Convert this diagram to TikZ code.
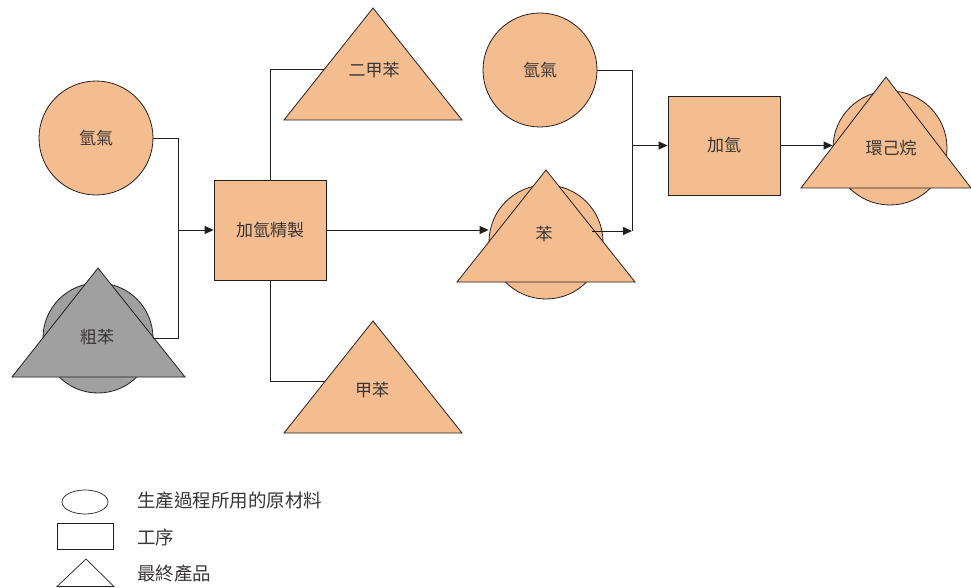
\documentclass[tikz,border=0pt]{standalone}
\usepackage{fontspec}
\newfontfamily\cjk{Noto Sans CJK TC}
\usetikzlibrary{arrows.meta}
\definecolor{org}{HTML}{F3BD8F}
\definecolor{gry}{HTML}{A0A0A0}
\definecolor{ln}{HTML}{231F20}
\begin{document}
\begin{tikzpicture}[x=1pt,y=-1pt,
  lbl/.style={font=\cjk\fontsize{17}{19}\selectfont,text=ln!90,inner sep=0pt},
  leg/.style={font=\cjk\fontsize{18.5}{21}\selectfont,text=ln!90,inner sep=0pt,anchor=west},
  raw/.style={circle,draw=ln,fill=org,minimum size=114pt,inner sep=0pt,line width=0.8pt,font=\cjk\fontsize{17}{19}\selectfont,text=ln!90},
  prod/.style={draw=ln,fill=org,line width=0.8pt},
  proc/.style={rectangle,draw=ln,fill=org,line width=0.8pt,inner sep=0pt,font=\cjk\fontsize{17}{19}\selectfont,text=ln!90},
  conn/.style={draw=ln,line width=0.8pt},
  arr/.style={conn,-{Triangle[length=9pt,width=8pt]}},
  legshape/.style={draw=ln,line width=0.7pt}]
\useasboundingbox (0,0) rectangle (971,588);

% raw materials
\node[raw] (h1) at (96,138) {氫氣};
\node[raw] (h2) at (540,70) {氫氣};
\node[raw,fill=gry,minimum size=110pt] (cbc) at (98,338) {};
\node[raw,minimum size=114pt] (bc) at (546,242) {};
\node[raw,minimum size=114pt] (hc) at (890,148) {};

% processes
\node[proc,minimum width=112pt,minimum height=100pt] (p1) at (270,230) {加氫精製};
\node[proc,minimum width=112pt,minimum height=99pt] (p2) at (724,145.5) {加氫};

% product triangles
\path[prod,fill=gry] (12,377) -- (98,268) -- (185,377) -- cycle;
\path[prod] (457,282) -- (546,170) -- (635,282) -- cycle;
\path[prod] (801,188) -- (886,77) -- (971,188) -- cycle;
\path[prod] (284,120) -- (373,8) -- (462,120) -- cycle;
\path[prod] (284,433) -- (373,321) -- (462,433) -- cycle;

% labels
\node[lbl] (lcb) at (97,337) {粗苯};
\node[lbl] (lb) at (544,234) {苯};
\node[lbl] (lh) at (891,148) {環己烷};
\node[lbl] (lx) at (374,70) {二甲苯};
\node[lbl] (lt) at (372,390) {甲苯};

% junctions
\coordinate (j1) at (178,230);
\coordinate (x1) at (324,69);
\coordinate (t1) at (325,381);
\coordinate (bo) at (592,231);
\coordinate (j2) at (632,145.5);

% connectors
\draw[conn] (h1.east) -| (j1);
\draw[conn] (cbc.east) -| (j1);
\draw[arr] (j1) -- (p1.west);
\draw[conn] (p1.north) |- (x1);
\draw[conn] (p1.south) |- (t1);
\draw[arr] (p1.east) -- (p1.east -| bc.west);
\draw[arr] (bo) -- (j2 |- bo);
\draw[conn] (h2.east) -| (j2 |- bo);
\draw[arr] (j2) -- (p2.west);
\draw[arr] (p2.east) -- (p2.east -| hc.west);

% legend
\draw[legshape] (85,502) ellipse [x radius=23, y radius=12];
\draw[legshape] (57,523) rectangle (113,549);
\draw[legshape] (57,586.5) -- (86,559) -- (114,586.5) -- cycle;
\node[leg] (l1) at (137,500) {生產過程所用的原材料};
\node[leg] (l2) at (137,537) {工序};
\node[leg] (l3) at (137,573) {最終產品};
\end{tikzpicture}
\end{document}
